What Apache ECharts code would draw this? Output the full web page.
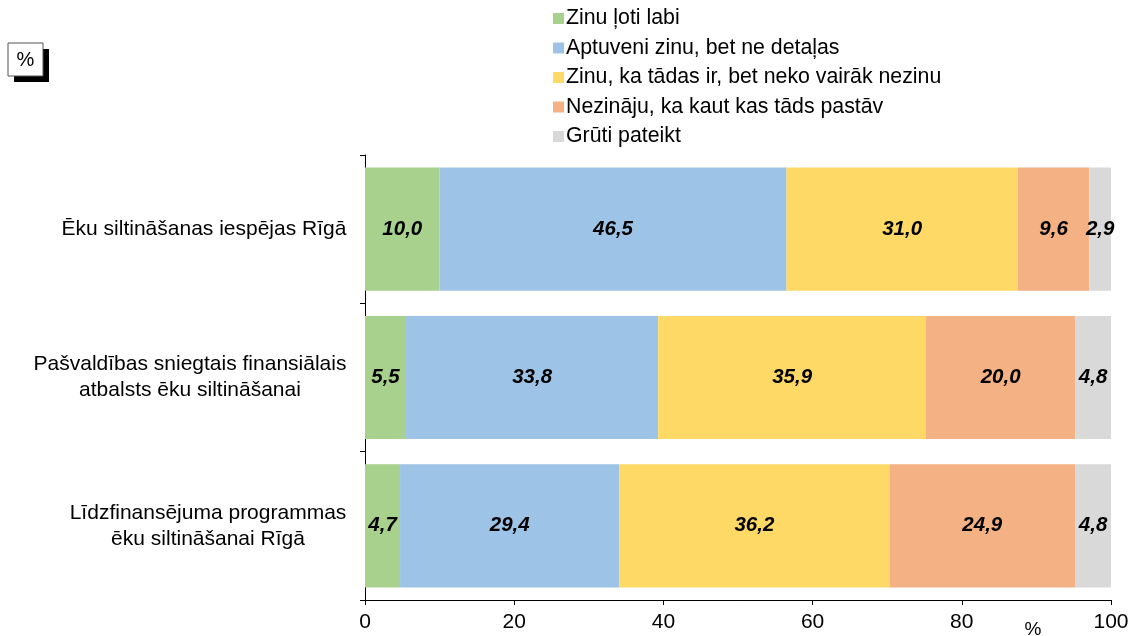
<!DOCTYPE html>
<html>
<head>
<meta charset="utf-8">
<script src="https://cdn.jsdelivr.net/npm/echarts@6/dist/echarts.min.js"></script>
<style>html,body{margin:0;padding:0;background:#fff;}#c{width:1135px;height:636px;}</style>
</head>
<body>
<div id="c"></div>
<script>
const categories = ["Ēku siltināšanas iespējas Rīgā", "Pašvaldības sniegtais finansiālais\natbalsts ēku siltināšanai", "Līdzfinansējuma programmas\nēku siltināšanai Rīgā"];
const seriesNames = ["Zinu ļoti labi", "Aptuveni zinu, bet ne detaļas", "Zinu, ka tādas ir, bet neko vairāk nezinu", "Nezināju, ka kaut kas tāds pastāv", "Grūti pateikt"];
const knowVeryWell = [10.0, 5.5, 4.7];
const roughly = [46.5, 33.8, 29.4];
const knowExists = [31.0, 35.9, 36.2];
const didNotKnow = [9.6, 20.0, 24.9];
const hardToSay = [2.9, 4.8, 4.8];
const xTicks = [0, 20, 40, 60, 80, 100];

const colors = ["#A9D18E", "#9DC3E6", "#FFD966", "#F4B183", "#D9D9D9"];
const values = [knowVeryWell, roughly, knowExists, didNotKnow, hardToSay];
const font = "Liberation Sans, Arial, sans-serif";
const catFontSize = 21;

// measure each category label's widest line so multi-line labels can be centred within their block
const ctx = document.createElement('canvas').getContext('2d');
ctx.font = catFontSize + 'px ' + font;
const rich = {};
categories.forEach((c, i) => {
  const w = Math.max(...c.split('\n').map(l => ctx.measureText(l).width));
  rich['c' + i] = { width: Math.ceil(w) + 1, align: 'center', fontSize: catFontSize, fontFamily: font, color: '#000', lineHeight: 26 };
});

const chart = echarts.init(document.getElementById('c'));
chart.setOption({
  animation: false,
  textStyle: { fontFamily: font },
  legend: {
    orient: 'vertical', left: 548, top: 3,
    itemWidth: 11, itemHeight: 11, itemGap: 8.5,
    icon: 'rect',
    textStyle: { fontSize: 21.3, lineHeight: 21, color: '#000', fontFamily: font, padding: [0,0,0,-3] },
    data: seriesNames
  },
  grid: { left: 365, right: 24, top: 155, bottom: 36, containLabel: false },
  xAxis: {
    type: 'value', min: 0, max: 100, interval: 20,
    axisLine: { show: true, lineStyle: { color: '#000' } },
    axisTick: { show: true, length: 5, lineStyle: { color: '#000' } },
    splitLine: { show: false },
    axisLabel: { fontSize: 21, color: '#000', fontFamily: font, margin: 12,
      formatter: v => xTicks.includes(v) ? String(v) : '' }
  },
  yAxis: {
    type: 'category', inverse: true, data: categories,
    axisLine: { show: true, lineStyle: { color: '#000' } },
    axisTick: { show: true, length: 5, lineStyle: { color: '#000' } },
    axisLabel: {
      margin: 18, align: 'right',
      formatter: (v, idx) => v.split('\n').map(l => '{c' + idx + '|' + l + '}').join('\n'),
      rich: rich
    }
  },
  series: seriesNames.map((n, i) => ({
    name: n, type: 'bar', stack: 'total', barCategoryGap: '17%',
    itemStyle: { color: colors[i] },
    label: {
      show: true, position: 'inside', fontSize: 20.5, fontWeight: 'bold', fontStyle: 'italic',
      color: '#000', fontFamily: font,
      formatter: p => p.value.toFixed(1).replace('.', ',')
    },
    data: values[i]
  })),
  graphic: [
    { type: 'rect', shape: { x: 14, y: 49, width: 35, height: 33 }, style: { fill: '#000' } },
    { type: 'rect', shape: { x: 8, y: 43, width: 35, height: 33 }, style: { fill: '#fff', stroke: '#555', lineWidth: 1 } },
    { type: 'text', x: 25.5, y: 60, style: { text: '%', fontSize: 20, fill: '#000', fontFamily: font, textAlign: 'center', textVerticalAlign: 'middle' } },
    { type: 'text', x: 1033, y: 630, style: { text: '%', fontSize: 19, fill: '#000', fontFamily: font, textAlign: 'center', textVerticalAlign: 'middle' } }
  ]
});
</script>
</body>
</html>
